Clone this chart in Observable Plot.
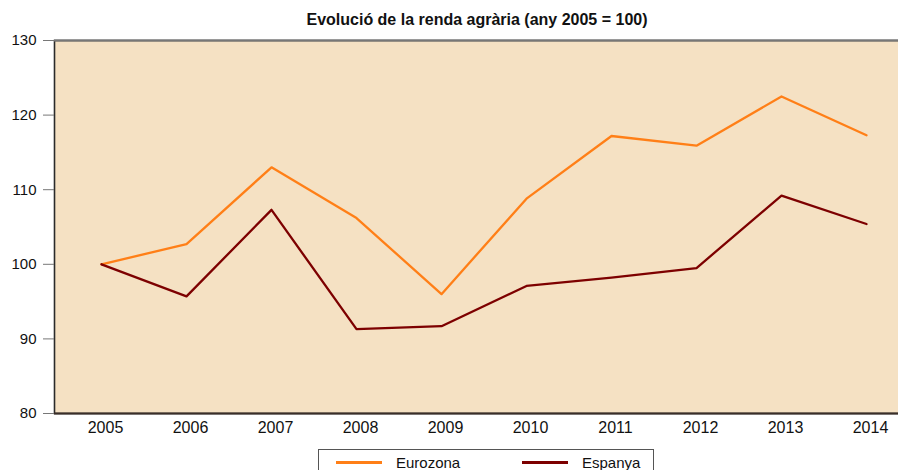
<!DOCTYPE html>
<html>
<head>
<meta charset="utf-8">
<script src="https://cdn.jsdelivr.net/npm/d3@7"></script>
<script src="https://cdn.jsdelivr.net/npm/@observablehq/plot@0.6"></script>
<style>
  html, body { margin: 0; padding: 0; background: #fff; overflow: hidden; }
  #wrap { position: relative; width: 898px; height: 470px; overflow: hidden; font-family: "Liberation Sans", Arial, sans-serif; color: #111; }
  #title { height: 19px; padding-top: 11px; line-height: 18px; font-size: 16px; font-weight: bold; text-align: center; padding-left: 56px; }
  #chart svg { display: block; overflow: hidden; }
  #legend { position: absolute; left: 318px; top: 449px; width: 336px; height: 30px; border: 1px solid #555; box-sizing: border-box; font-size: 15px; }
  .item { position: absolute; top: 2px; height: 20px; display: flex; align-items: center; }
  .sw { width: 46px; height: 3px; margin-right: 14px; }
</style>
</head>
<body>
<div id="wrap">
  <div id="title">Evolució de la renda agrària (any 2005 = 100)</div>
  <div id="chart"></div>
  <div id="legend"></div>
</div>
<script>
const years = [2005, 2006, 2007, 2008, 2009, 2010, 2011, 2012, 2013, 2014];
const eurozona = [100, 102.7, 113.0, 106.2, 96.0, 108.8, 117.2, 115.9, 122.5, 117.3];
const espanya = [100, 95.7, 107.3, 91.3, 91.7, 97.1, 98.2, 99.5, 109.2, 105.4];
const yTicks = [80, 90, 100, 110, 120, 130];
const seriesNames = ["Eurozona", "Espanya"];
const seriesColors = ["#ff7f17", "#7d0000"];
const bg = "#f5e1c3";

const data = years.flatMap((yr, i) => [
  {year: yr, value: eurozona[i], series: seriesNames[0]},
  {year: yr, value: espanya[i], series: seriesNames[1]}
]);

const chart = Plot.plot({
  width: 898,
  height: 415,
  marginTop: 10,
  marginBottom: 32,
  marginLeft: 54,
  marginRight: -3,
  style: {fontFamily: '"Liberation Sans", Arial, sans-serif', background: "transparent", color: "#111"},
  x: {type: "point", domain: years, range: [97, 870], padding: 0},
  y: {domain: [80, 130]},
  color: {domain: seriesNames, range: seriesColors},
  marks: [
    Plot.frame({fill: bg, stroke: "none"}),
    Plot.frame({stroke: "#2b2b2b", strokeWidth: 1.6}),
    Plot.ruleY([yTicks[yTicks.length - 1]], {stroke: "#777", strokeWidth: 1.8}),
    Plot.ruleY([yTicks[0]], {stroke: "#3a2e28", strokeWidth: 2}),
    Plot.axisY({ticks: yTicks, tickSize: 11, tickPadding: 7, stroke: "#777", fill: "#111", fontSize: 15, label: null}),
    Plot.axisX({tickSize: 0, tickPadding: 8, fontSize: 16, fill: "#111", label: null, dx: 4, tickFormat: d => String(d)}),
    Plot.line(data, {x: "year", y: "value", z: "series", stroke: "series", strokeWidth: 2.3})
  ]
});
document.getElementById("chart").appendChild(chart);

const legend = document.getElementById("legend");
const lefts = [17, 203];
seriesNames.forEach((name, i) => {
  const it = document.createElement("div");
  it.className = "item";
  it.style.left = lefts[i] + "px";
  const sw = document.createElement("div");
  sw.className = "sw";
  sw.style.background = seriesColors[i];
  const t = document.createElement("span");
  t.textContent = name;
  it.appendChild(sw);
  it.appendChild(t);
  legend.appendChild(it);
});
</script>
</body>
</html>
